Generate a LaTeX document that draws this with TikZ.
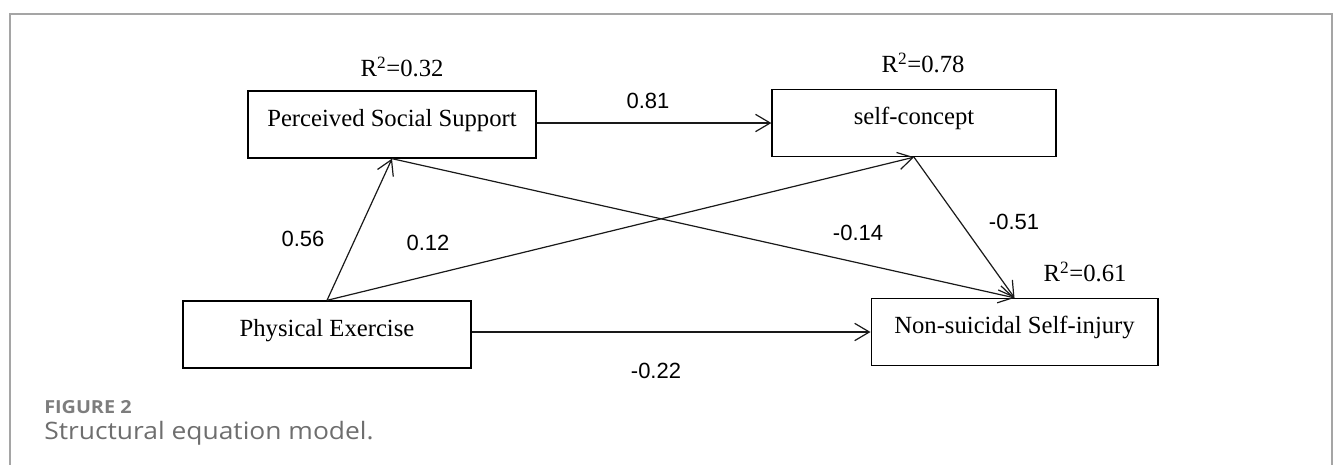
\documentclass[tikz,border=0pt]{standalone}
\usepackage{fontspec}
\setmainfont{Liberation Serif}
\newfontfamily\labelfont{Liberation Sans}
\newfontfamily\capfont[FakeStretch=1.1]{Open Sans}
\usetikzlibrary{arrows.meta}
\definecolor{framegray}{RGB}{165,165,165}
\definecolor{capgray}{RGB}{110,110,110}
\definecolor{capheadgray}{RGB}{125,125,125}

\begin{document}
\begin{tikzpicture}[x=0.75pt,y=-0.75pt,
  varbox/.style={draw=black, line width=1pt, inner sep=0pt,
    minimum width=#1, minimum height=50.25pt,
    font=\fontsize{18.5}{20}\selectfont,
    text height=12.75pt, text depth=10.5pt},
  rsq/.style={font=\fontsize{18.5}{20}\selectfont, inner sep=0pt},
  coef/.style={font=\labelfont\fontsize{16.5}{18}\selectfont, inner sep=0pt},
  sempath/.style={draw=black!90, line width=0.9pt,
    -{Straight Barb[length=11pt,width=13pt]}},
  caphead/.style={font=\capfont\bfseries\fontsize{13.5}{15}\selectfont,
    text=capheadgray, anchor=base west, inner sep=0pt},
  captext/.style={font=\capfont\fontsize{18}{20}\selectfont,
    text=capgray, anchor=base west, inner sep=0pt}]

  % page size and the open frame
  \useasboundingbox (0,0) rectangle (1333,464);
  \draw[framegray, line width=1.1pt] (10,470) -- (10,14) -- (1332,14) -- (1332,470);

  % variables
  \node[varbox=216pt] (pss) at (392,124.5) {Perceived Social Support};
  \node[varbox=213pt] (sc)  at (914,123)   {self-concept};
  \node[varbox=216pt] (pe)  at (327,334.5) {Physical Exercise};
  \node[varbox=215pt] (nssi) at (1014.5,332) {Non-suicidal Self-injury};

  % explained variance
  \node[rsq] (r1) at (402,67)  {R\textsuperscript{2}=0.32};
  \node[rsq] (r2) at (923,63)  {R\textsuperscript{2}=0.78};
  \node[rsq] (r3) at (1085,272) {R\textsuperscript{2}=0.61};

  % structural paths
  \draw[sempath] (pss.east |- sc.west) -- (sc.west);
  \draw[sempath] (pe.north) -- (pss.south);
  \draw[sempath] (pe.north) -- (sc.south);
  \draw[sempath] (pss.south) -- (nssi.north);
  \draw[sempath] (sc.south) -- (nssi.north);
  \draw[sempath] (pe.east |- nssi.west) -- (nssi.west);

  % path coefficients
  \node[coef] (c1) at (648,101)  {0.81};
  \node[coef] (c2) at (303,239)  {0.56};
  \node[coef] (c3) at (428,243)  {0.12};
  \node[coef] (c4) at (858,233)  {-0.14};
  \node[coef] (c5) at (1014,222) {-0.51};
  \node[coef] (c6) at (656,371)  {-0.22};

  % caption
  \node[caphead] (fig) at (44,413) {FIGURE 2};
  \node[captext] (cap) at (44,439) {Structural equation model.};
\end{tikzpicture}
\end{document}
